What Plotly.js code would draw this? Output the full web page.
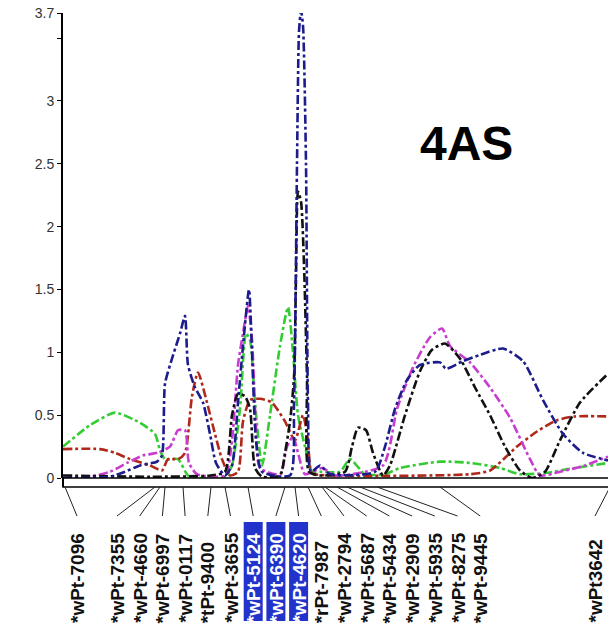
<!DOCTYPE html>
<html>
<head>
<meta charset="utf-8">
<script src="https://cdn.plot.ly/plotly-3.0.1.min.js"></script>
<style>html,body{margin:0;padding:0;background:#fff;}#chart{width:608px;height:627px;}</style>
</head>
<body>
<div id="chart"></div>
<script>
// ---- Data (position in cM, LOD) ----
const greenX = [0, 5.4, 10.4, 15.4, 18.4, 19.4, 20.4, 23, 25, 27.4, 32.4, 33.8, 35.4, 36.6, 37.4, 38.4, 39.8, 41.4, 43.4, 45, 46, 47, 48.4, 49.8, 51.4, 55.4, 57.4, 60.4, 64.4, 67.4, 75.4, 81.4, 87.4, 91.4, 96.4, 102.4, 109];
const greenY = [0.25, 0.42, 0.52, 0.44, 0.35, 0.22, 0.15, 0.15, 0.02, 0.0, 0.0, 0.1, 0.55, 1.15, 1.1, 0.6, 0.1, 0.5, 1.05, 1.36, 1.0, 0.5, 0.25, 0.05, 0.05, 0.05, 0.15, 0.03, 0.03, 0.08, 0.13, 0.12, 0.08, 0.03, 0.04, 0.08, 0.12];

const blackX = [0, 17.4, 29.4, 32.4, 33.8, 35, 36.4, 37.4, 38.4, 39.8, 43.4, 44.4, 45.4, 46.2, 46.6, 47, 47.6, 48.2, 48.8, 49.2, 51.4, 56.4, 57.8, 59, 60.6, 62, 64, 65.4, 68.4, 71.4, 73.8, 76.4, 79.4, 82.4, 85.4, 88.4, 91.4, 93.8, 96.4, 99.4, 103.4, 109];
const blackY = [0.02, 0.01, 0.02, 0.05, 0.5, 0.67, 0.65, 0.55, 0.08, 0.01, 0.02, 0.2, 0.45, 0.8, 1.6, 2.28, 2.2, 1.7, 0.8, 0.05, 0.02, 0.05, 0.25, 0.4, 0.38, 0.2, 0.02, 0.1, 0.5, 0.85, 1.02, 1.07, 0.95, 0.72, 0.5, 0.25, 0.06, 0.0, 0.05, 0.3, 0.6, 0.83];

const blueX = [0, 9.4, 12.4, 15.4, 18.8, 19.8, 20.4, 21.8, 23.4, 24.4, 25, 26.4, 28, 29.4, 30.6, 32.4, 33.8, 35, 36, 37.2, 37.8, 38.6, 39.8, 45.4, 46.2, 46.8, 47.2, 47.6, 48, 48.6, 49, 49.6, 51.4, 53.4, 62.4, 64.4, 66.4, 68.8, 71.4, 75.4, 76.6, 80, 83.4, 88, 92, 96, 100, 104, 109];
const blueY = [0.0, 0.01, 0.05, 0.1, 0.13, 0.18, 0.75, 0.95, 1.15, 1.29, 0.9, 0.72, 0.6, 0.35, 0.12, 0.02, 0.1, 0.6, 1.05, 1.5, 1.0, 0.3, 0.05, 0.02, 0.6, 2.5, 3.55, 3.72, 3.6, 2.5, 0.6, 0.05, 0.1, 0.03, 0.05, 0.25, 0.55, 0.78, 0.9, 0.92, 0.87, 0.93, 0.98, 1.03, 0.93, 0.62, 0.35, 0.2, 0.14];

const magentaX = [0, 5.4, 9.4, 12.8, 16, 18.8, 21.4, 23, 24.4, 25.2, 26.8, 32.4, 33.8, 35, 36, 37, 37.8, 38.6, 39.4, 43.4, 44.8, 46, 47, 48.4, 51.8, 54.4, 64, 66.8, 70, 73.4, 75.8, 77.4, 81.4, 85.4, 89.4, 93.4, 95.4, 99.4, 104.4, 109];
const magentaY = [0.0, 0.01, 0.05, 0.12, 0.18, 0.2, 0.25, 0.38, 0.38, 0.12, 0.03, 0.02, 0.3, 0.9, 1.15, 1.37, 1.1, 0.4, 0.08, 0.03, 0.25, 0.33, 0.2, 0.03, 0.08, 0.02, 0.1, 0.55, 0.88, 1.12, 1.19, 1.05, 0.92, 0.72, 0.48, 0.15, 0.02, 0.05, 0.1, 0.17];

const redX = [0, 7.4, 10.4, 13.4, 17.4, 19.8, 21, 23, 24.4, 25.8, 27, 28.8, 30.4, 31.8, 33.4, 35, 36, 37.4, 39.4, 41.8, 44.4, 46.4, 48, 49, 49.8, 53.4, 81.4, 85.4, 90.8, 94.8, 98.8, 102.4, 109];
const redY = [0.23, 0.23, 0.2, 0.15, 0.1, 0.06, 0.15, 0.15, 0.2, 0.65, 0.84, 0.6, 0.35, 0.15, 0.02, 0.05, 0.45, 0.62, 0.63, 0.6, 0.45, 0.3, 0.5, 0.3, 0.04, 0.02, 0.03, 0.06, 0.25, 0.37, 0.46, 0.49, 0.49];

const markerNames = ['*wPt-7096', '*wPt-7355', '*wPt-4660', '*wPt-6997', '*wPt-0117', '*tPt-9400', '*wPt-3655', '*wPt-5124', '*wPt-6390', '*wPt-4620', '*rPt-7987', '*wPt-2794', '*wPt-5687', '*wPt-5434', '*wPt-2909', '*wPt-5935', '*wPt-8275', '*wPt-9445', '*wPt3642'];
const markerPos = [0.4, 18.4, 19.4, 20.4, 24, 29.6, 32.4, 37, 44.4, 46.4, 49, 51.8, 52.4, 54.8, 56.8, 59.4, 62.8, 75.4, 109.4];
const highlighted = ['*wPt-5124', '*wPt-6390', '*wPt-4620'];

const yTickVals = [0, 0.5, 1, 1.5, 2, 2.5, 3, 3.5, 3.7];
const yTickText = ['0', '0.5', '1', '1.5', '2', '2.5', '3', '', '3.7'];
const chromName = '4AS';

// ---- Layout geometry ----
const W = 608, H = 627, ML = 63, MR = 0, MT = 13, MB = 149;
const plotW = W - ML - MR, plotH = H - MT - MB;
const xRange = [0, 109];
const pxToPaperX = px => (px - ML) / plotW;
const pxToPaperY = py => (H - MB - py) / plotH;
const cmToPaper = c => (c - xRange[0]) / (xRange[1] - xRange[0]);

function series(x, y, color) {
  return {x: x, y: y, type: 'scatter', mode: 'lines',
    line: {color: color, width: 2.6, dash: 'dashdot', shape: 'spline', smoothing: 0.6},
    hoverinfo: 'skip', showlegend: false, cliponaxis: true};
}
const traces = [
  series(greenX, greenY, '#33cc33'),
  series(redX, redY, '#b0281a'),
  series(magentaX, magentaY, '#c83cd0'),
  series(blackX, blackY, '#111111'),
  series(blueX, blueY, '#1c1c8c')
];

const shapes = [];
const annotations = [];
const barTop = 0, barBottom = pxToPaperY(487);
// chromosome bar
shapes.push({type: 'rect', xref: 'paper', yref: 'paper', x0: 0, x1: 1.02, y0: barBottom, y1: barTop,
  line: {color: '#000', width: 1.5}, fillcolor: '#fff', layer: 'above'});
// y-axis line extension down to bar bottom
shapes.push({type: 'line', xref: 'paper', yref: 'paper', x0: 0, x1: 0, y0: barBottom, y1: 0,
  line: {color: '#000', width: 2}});

const n = markerNames.length;
const labelBottom = pxToPaperY(625);
const leaderEnd = pxToPaperY(516);
markerNames.forEach((name, i) => {
  const mpx = ML + cmToPaper(markerPos[i]) * plotW;
  let lpx;
  if (i === 0) lpx = mpx + 12;
  else if (i === n - 1) lpx = 595;
  else lpx = 117 + (i - 1) * 22.7;
  shapes.push({type: 'line', xref: 'paper', yref: 'paper',
    x0: cmToPaper(markerPos[i]), y0: barBottom, x1: pxToPaperX(lpx), y1: leaderEnd,
    line: {color: '#222', width: 1}});
  const hi = highlighted.indexOf(name) >= 0;
  if (hi) {
    shapes.push({type: 'rect', xref: 'paper', yref: 'paper',
      x0: pxToPaperX(lpx - 9.5), x1: pxToPaperX(lpx + 9.5), y0: pxToPaperY(621), y1: pxToPaperY(522),
      line: {width: 0}, fillcolor: '#2233cc'});
  }
  annotations.push({text: name, xref: 'paper', yref: 'paper', x: pxToPaperX(lpx), y: labelBottom,
    xanchor: 'center', yanchor: 'bottom', textangle: -90, showarrow: false,
    font: {family: 'Liberation Sans, Arial, sans-serif', size: 19, color: hi ? '#ffffff' : '#111', weight: 'bold'}});
});

annotations.push({text: '<b>' + chromName + '</b>', xref: 'paper', yref: 'paper',
  x: pxToPaperX(466), y: pxToPaperY(143), xanchor: 'center', yanchor: 'middle', showarrow: false,
  font: {family: 'Liberation Sans, Arial, sans-serif', size: 48, color: '#000'}});

const layout = {
  width: W, height: H,
  margin: {l: ML, r: MR, t: MT, b: MB, pad: 0},
  paper_bgcolor: '#fff', plot_bgcolor: '#fff',
  showlegend: false,
  xaxis: {range: xRange, showgrid: false, zeroline: false, showline: false, showticklabels: false, ticks: ''},
  yaxis: {range: [0, 3.7], showgrid: false, zeroline: false, showline: true, linecolor: '#000', linewidth: 2,
    ticks: 'outside', ticklen: 4, tickwidth: 1, tickcolor: '#000',
    tickvals: yTickVals, ticktext: yTickText,
    tickfont: {family: 'Liberation Sans, Arial, sans-serif', size: 14, color: '#333'}},
  shapes: shapes,
  annotations: annotations
};

Plotly.newPlot('chart', traces, layout, {staticPlot: true, displayModeBar: false});
</script>
</body>
</html>
